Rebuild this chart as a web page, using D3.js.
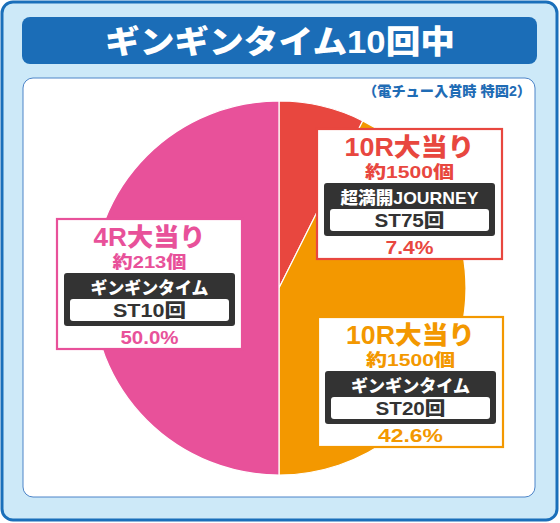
<!DOCTYPE html>
<html><head><meta charset="utf-8">
<script src="https://cdn.jsdelivr.net/npm/d3@7"></script>
<style>
html,body{margin:0;padding:0;background:#fff;}
svg{display:block;}
text{font-family:"Liberation Sans","Noto Sans CJK JP",sans-serif;font-weight:900;}
</style></head><body>
<svg id="c" width="560" height="523"></svg>
<script>
const title = "ギンギンタイム10回中";
const subtitle = "（電チュー入賞時 特図2）";
const categories = ["10R大当り", "10R大当り", "4R大当り"];
const payouts = ["約1500個", "約1500個", "約213個"];
const modes = ["超満開JOURNEY", "ギンギンタイム", "ギンギンタイム"];
const stCounts = ["ST75回", "ST20回", "ST10回"];
const shares = [7.4, 42.6, 50.0];
const colors = ["#e8473f", "#f39800", "#e8519a"];

const svg = d3.select("#c");
const fit = (t, w) => t.attr("textLength", w).attr("lengthAdjust","spacingAndGlyphs");
// outer frame
svg.append("rect").attr("x",2).attr("y",2).attr("width",555).attr("height",518)
  .attr("rx",11).attr("fill","#cde9f8").attr("stroke","#1a6fba").attr("stroke-width",3);
// title bar
svg.append("rect").attr("x",22).attr("y",17).attr("width",515).attr("height",47)
  .attr("rx",8).attr("fill","#1b6db7");
fit(svg.append("text").attr("x",280).attr("y",53).attr("text-anchor","middle")
  .attr("fill","#fff").attr("font-size",32).attr("font-weight",700).text(title), 350);
// inner panel
svg.append("rect").attr("x",23).attr("y",78).attr("width",512).attr("height",419)
  .attr("rx",10).attr("fill","#fff").attr("stroke","#4d84c8").attr("stroke-width",1);
fit(svg.append("text").attr("x",531).attr("y",96).attr("text-anchor","end")
  .attr("fill","#1f6cb5").attr("font-size",14).text(subtitle), 168);

// pie
const cx = 279, cy = 288, R = 187;
const pie = d3.pie().sort(null).value(d=>d)(shares);
const arc = d3.arc().innerRadius(0).outerRadius(R);
svg.append("g").attr("transform",`translate(${cx},${cy})`)
  .selectAll("path").data(pie).join("path")
  .attr("d",arc).attr("fill",(d,i)=>colors[i])
  .attr("stroke","#fff").attr("stroke-width",1.2);

// label boxes (layout)
const boxes = [
  {x:317,y:129, w:[130,89,138,70,48]},
  {x:318,y:317, w:[129,89,119,70,65]},
  {x:57, y:219, w:[112,74,118,73,58]}
];
const bw = 185, bh = 130;
boxes.forEach((b,i)=>{
  const g = svg.append("g").attr("transform",`translate(${b.x},${b.y})`);
  const mid = bw/2;
  g.append("rect").attr("x",0).attr("y",0).attr("width",bw).attr("height",bh)
    .attr("fill","#fff").attr("stroke",colors[i]).attr("stroke-width",2.2);
  fit(g.append("text").attr("x",mid).attr("y",27).attr("text-anchor","middle")
    .attr("fill",colors[i]).attr("font-size",25).text(categories[i]), b.w[0]);
  fit(g.append("text").attr("x",mid).attr("y",49).attr("text-anchor","middle")
    .attr("fill",colors[i]).attr("font-size",17).text(payouts[i]), b.w[1]);
  g.append("rect").attr("x",7).attr("y",54).attr("width",bw-14).attr("height",53)
    .attr("rx",3).attr("fill","#333333");
  fit(g.append("text").attr("x",mid).attr("y",75).attr("text-anchor","middle")
    .attr("fill","#fff").attr("font-size",17).text(modes[i]), b.w[2]);
  g.append("rect").attr("x",13).attr("y",80).attr("width",bw-26).attr("height",22)
    .attr("rx",3).attr("fill","#fff");
  fit(g.append("text").attr("x",mid).attr("y",98).attr("text-anchor","middle")
    .attr("fill","#333").attr("font-size",18).text(stCounts[i]), b.w[3]);
  fit(g.append("text").attr("x",mid).attr("y",125).attr("text-anchor","middle")
    .attr("fill",colors[i]).attr("font-size",18).text(shares[i].toFixed(1)+"%"), b.w[4]);
});
</script>
</body></html>
